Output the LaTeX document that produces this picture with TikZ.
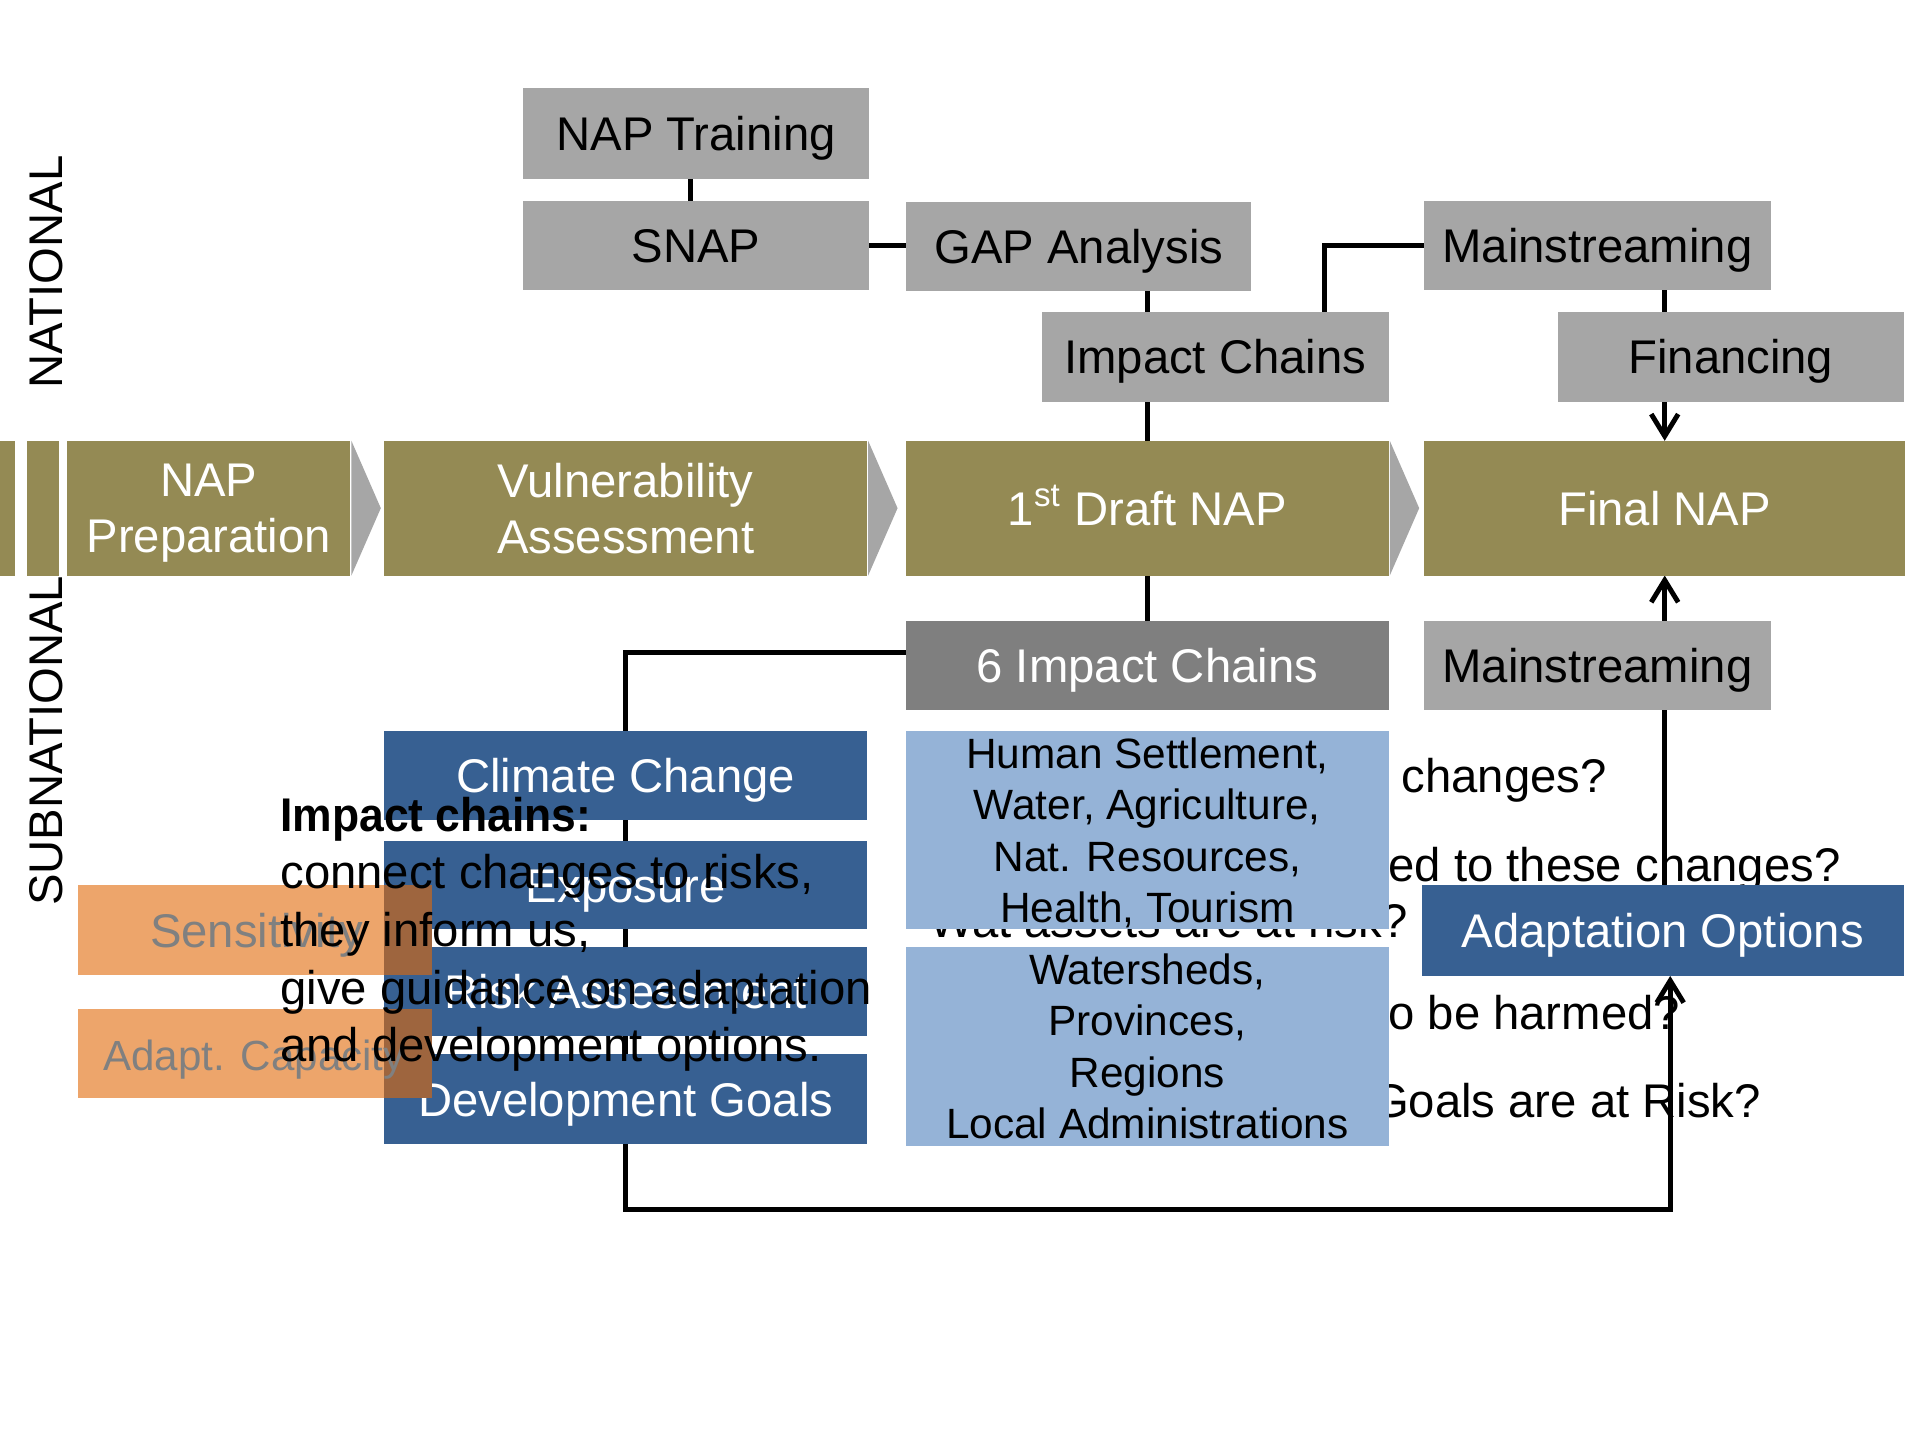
\documentclass[tikz,border=0pt]{standalone}
\usepackage{fontspec}
\setmainfont{Liberation Sans}
\usetikzlibrary{arrows.meta,calc}
\definecolor{cgray}{HTML}{A6A6A6}
\definecolor{cdgray}{HTML}{7F7F7F}
\definecolor{colive}{HTML}{948A54}
\definecolor{cblue}{HTML}{376092}
\definecolor{clblue}{HTML}{95B3D7}
\definecolor{corange}{RGB}{237,165,107}
\definecolor{cbrown}{RGB}{158,101,62}
\definecolor{ctxtgray}{HTML}{808080}
\newcommand\fA{\fontsize{19.3}{23}\selectfont}
\newcommand\fB{\fontsize{17.3}{21}\selectfont}
\newcommand\fC{\fontsize{17.2}{21}\selectfont}
\pgfdeclarelayer{bg}
\pgfsetlayers{bg,main}
\newcommand\rbox[7]{%
  \pgfmathsetmacro\rbw{(#5-#3)*0.5}%
  \pgfmathsetmacro\rbh{(#6-#4)*0.5}%
  \node[#1, minimum width=\rbw pt, minimum height=\rbh pt] (#2) at ({(#3+#5)/2},{(#4+#6)/2}) {#7};%
}
\tikzset{
  boxbase/.style={inner sep=0pt, outer sep=0pt, align=center, font=\fA},
  oneline/.style={text height=13.9pt, text depth=0pt},
  gbox/.style={boxbase, oneline, fill=cgray, text=black},
  dgbox/.style={boxbase, oneline, fill=cdgray, text=white},
  obox/.style={boxbase, fill=colive, text=white, text depth=0pt},
  obox1/.style={obox, oneline},
  bbox/.style={boxbase, oneline, fill=cblue, text=white},
  lbbox/.style={boxbase, fill=clblue, text=black, font=\fB, text depth=0pt},
  orbox/.style={boxbase, fill=corange},
  conn/.style={draw=black, line width=2pt, line join=miter},
  arr/.style={conn, -{Straight Barb[length=9pt,width=11pt]}},
  lbl/.style={inner sep=0pt, outer sep=0pt, font=\fA, text=black},
}
\begin{document}
\begin{tikzpicture}[x=0.5pt,y=-0.5pt]
\useasboundingbox (0,0) rectangle (1568,1176);

% top national boxes
\rbox{gbox}{train}{427}{72}{710}{146}{NAP Training}
\rbox{gbox}{snap}{427}{164}{710}{237}{SNAP}
\rbox{gbox}{gap}{740}{165}{1022}{238}{GAP Analysis}
\rbox{gbox}{ic}{851}{255}{1134}{328}{Impact Chains}
\rbox{gbox}{mainA}{1163}{164}{1446}{237}{Mainstreaming}
\rbox{gbox}{fin}{1272}{255}{1555}{328}{Financing}

% main row
\rbox{obox}{b1}{0}{360}{12}{470}{}
\rbox{obox}{b2}{22}{360}{48}{470}{}
\rbox{obox}{prep}{55}{360}{286}{470}{NAP\\Preparation}
\rbox{obox}{vul}{314}{360}{708}{470}{Vulnerability\\Assessment}
\rbox{obox1}{draft}{740}{360}{1134}{470}{1\textsuperscript{st} Draft NAP}
\rbox{obox1}{final}{1163}{360}{1556}{470}{Final NAP}
\fill[cgray] ([xshift=0.5pt]prep.north east) -- ([xshift=0.5pt]prep.south east) -- ([xshift=12.5pt]prep.east) -- cycle;
\fill[cgray] ([xshift=0.5pt]vul.north east) -- ([xshift=0.5pt]vul.south east) -- ([xshift=12.5pt]vul.east) -- cycle;
\fill[cgray] ([xshift=0.5pt]draft.north east) -- ([xshift=0.5pt]draft.south east) -- ([xshift=12.5pt]draft.east) -- cycle;

% subnational boxes
\rbox{dgbox}{six}{740}{507}{1134}{580}{6 Impact Chains}
\rbox{gbox}{mainB}{1163}{507}{1446}{580}{Mainstreaming}
\rbox{bbox}{cc}{314}{597}{708}{670}{Climate Change}
\rbox{bbox}{expo}{314}{687}{708}{759}{Exposure}
\rbox{bbox}{risk}{314}{773}{708}{846}{Risk Assessment}
\rbox{bbox}{dev}{314}{861}{708}{934}{Development Goals}
\rbox{lbbox}{sect}{740}{597}{1134}{759}{Human Settlement,\\Water, Agriculture,\\Nat. Resources,\\Health, Tourism}
\rbox{lbbox}{admin}{740}{773}{1134}{936}{Watersheds,\\Provinces,\\Regions\\Local Administrations}
\rbox{bbox}{adapt}{1161}{723}{1555}{797}{Adaptation Options}

% orange boxes with darker overlap on the blue column
\rbox{orbox}{sens}{64}{723}{353}{796}{}
\rbox{orbox}{capa}{64}{824}{353}{897}{}
\fill[cbrown] (cc.west |- sens.north) rectangle (sens.south east);
\fill[cbrown] (cc.west |- capa.north) rectangle (capa.south east);
\node[lbl, oneline, text=ctxtgray] (senst) at ([xshift=0.5pt]sens.center) {Sensitivity};
\node[lbl, oneline, text=ctxtgray, font=\fC] (capat) at ([xshift=-0.5pt]capa.center) {Adapt. Capacity};

% background layer: side labels, connectors, questions
\begin{pgfonlayer}{bg}
\node[lbl, rotate=90, oneline] (nat) at (37,222) {NATIONAL};
\node[lbl, rotate=90, oneline] (subnat) at (37,605) {SUBNATIONAL};

\draw[conn] ([xshift=-2.25pt]train.south) -- ([xshift=-2.25pt]snap.north);
\draw[conn] (snap.east) -- (snap.east -| gap.west);
\draw[conn] (gap.south -| draft.north) -- (ic.north -| draft.north);
\draw[conn] (ic.south -| draft.north) -- (draft.north);
\coordinate (k1) at (1082,255);
\draw[conn] (ic.north -| k1) |- (mainA.west);
\draw[conn] (mainA.south -| final.north) -- (fin.north -| final.north);
\draw[arr] (fin.south -| final.north) -- (final.north);
\draw[conn] (draft.south) -- (six.north);
\coordinate (lc) at (511,533);
\coordinate (bl) at (511,988);
\coordinate (br) at (1364,988);
\draw[arr] (six.west |- lc) -- (lc) -- (bl) -- (br) -- (adapt.south -| br);
\draw[arr] (adapt.north -| final.south) -- (final.south);

\node[lbl, anchor=base east] (q1) at (1312,647) {changes?};
\node[lbl, anchor=base east] (q2) at (1503,720) {ed to these changes?};
\node[lbl, anchor=base east] (q3) at (1150,766) {Wat assets are at risk?};
\node[lbl, anchor=base east] (q4) at (1372,841) {o be harmed?};
\node[lbl, anchor=base east] (q5) at (1438,913) {Goals are at Risk?};
\end{pgfonlayer}

% overlay paragraph
\node[lbl, anchor=base west, xscale=0.94] (p1) at (229,679) {\textbf{Impact chains:}};
\node[lbl, anchor=base west] (p2) at (229,726) {connect changes to risks,};
\node[lbl, anchor=base west] (p3) at (229,773) {they inform us,};
\node[lbl, anchor=base west] (p4) at (229,820) {give guidance on adaptation};
\node[lbl, anchor=base west] (p5) at (229,867) {and development options.};
\end{tikzpicture}
\end{document}
